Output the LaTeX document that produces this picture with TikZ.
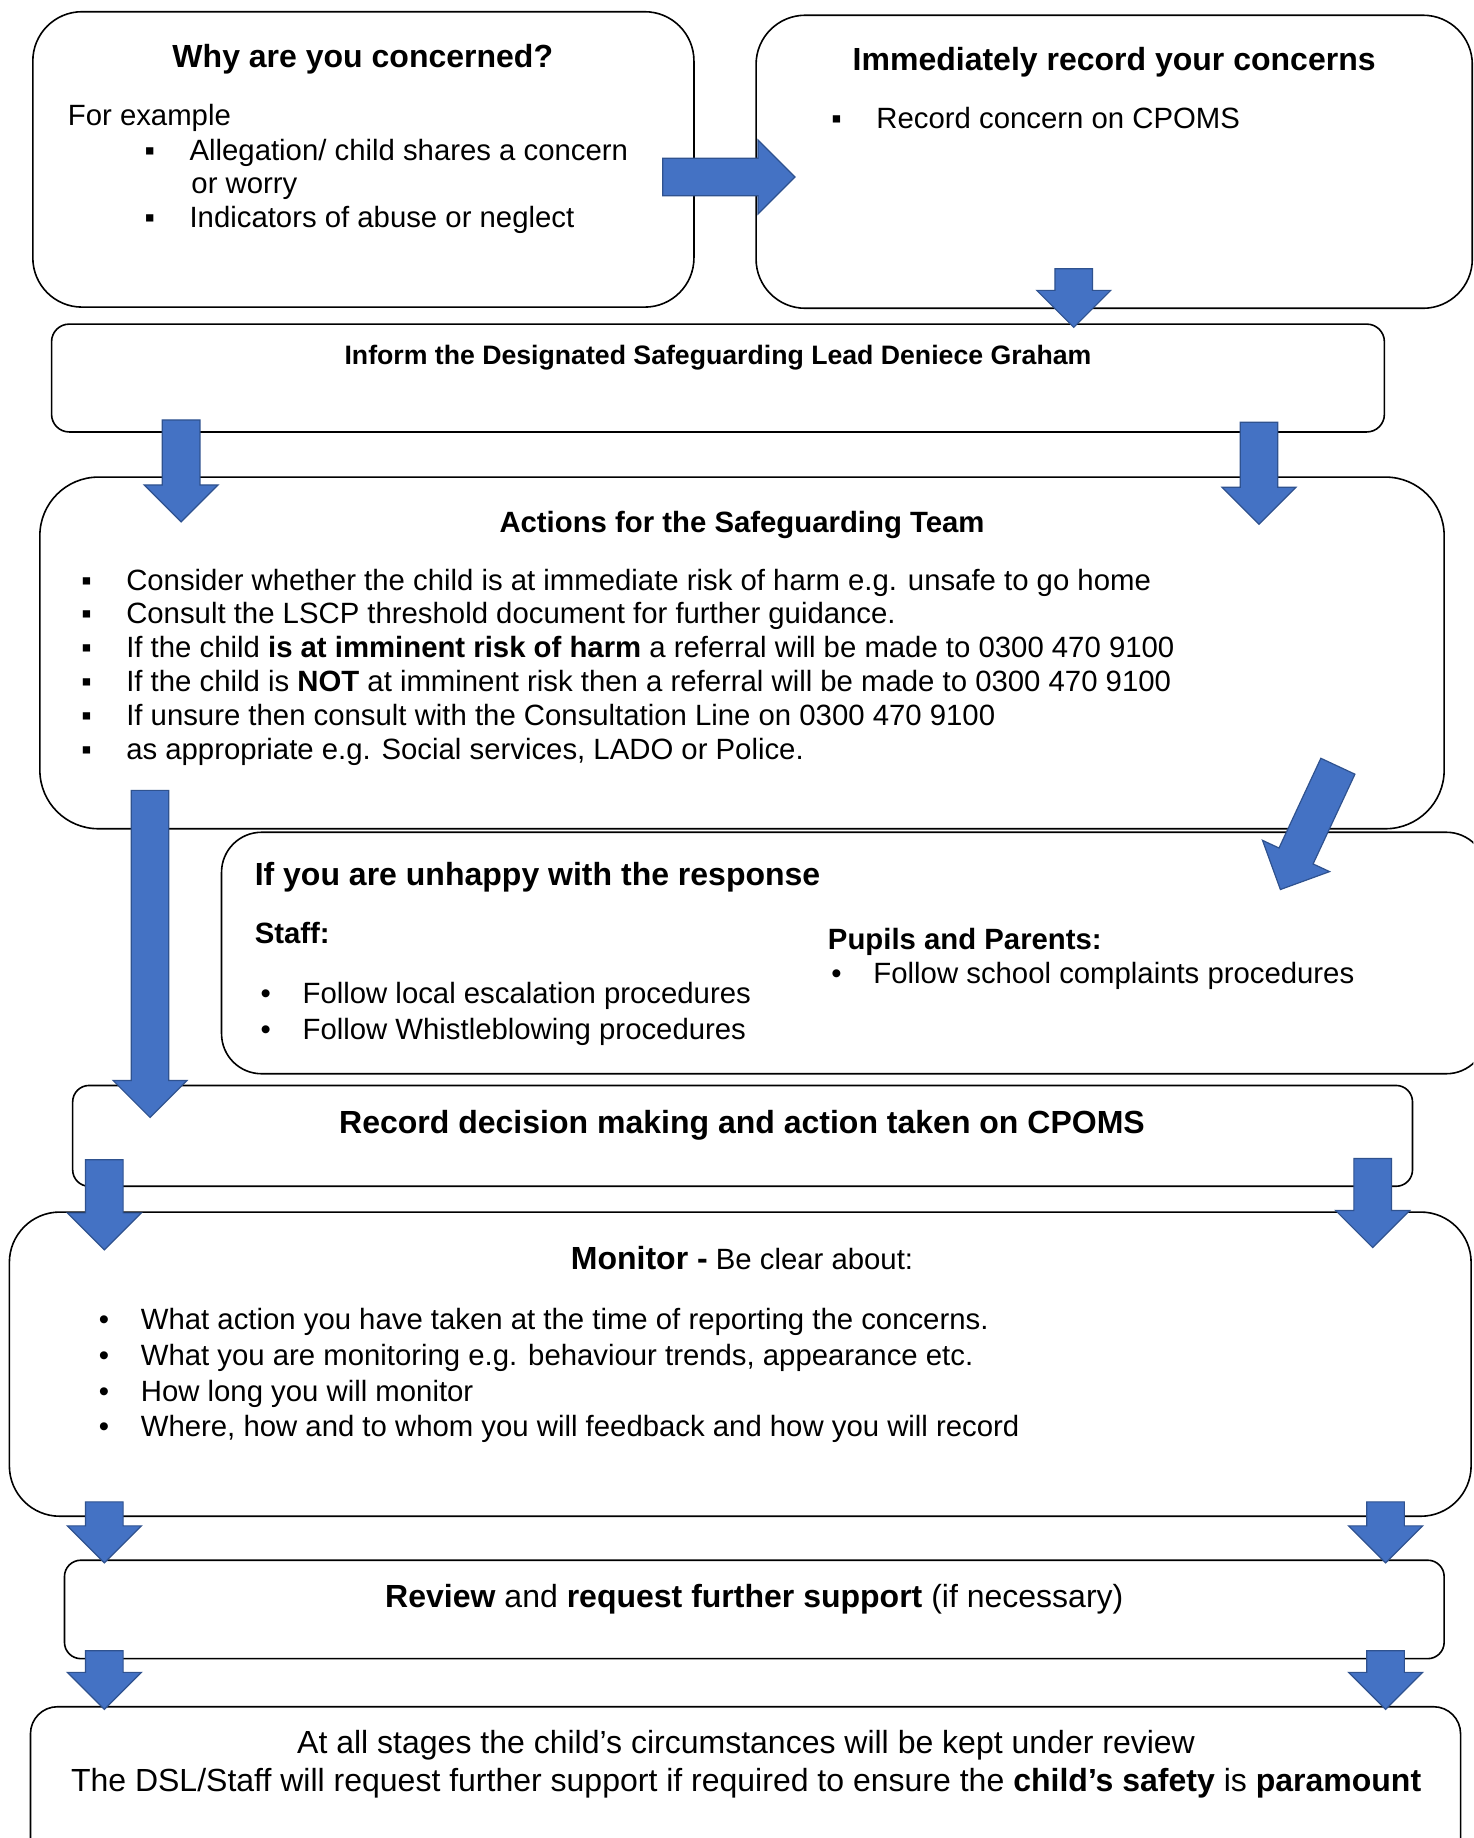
\documentclass[tikz,border=0pt]{standalone}
\usepackage{fontspec}
\setmainfont{Liberation Sans}
\usetikzlibrary{shapes.arrows,fit}

\definecolor{arrowblue}{HTML}{4472C4}
\definecolor{arrowedge}{HTML}{2F528F}

\newcommand{\sqb}{\makebox[22.5pt][l]{▪}}
\newcommand{\rdb}{\makebox[21pt][l]{•}}

\tikzset{
    box/.style={draw=black, line width=0.8pt, fill=white, inner sep=0pt},
    fatarrow/.style={single arrow, fill=arrowblue, draw=arrowedge, line width=0.6pt,
        inner xsep=0pt, inner ysep=9.1pt, single arrow head extend=9.1pt,
        single arrow tip angle=90, anchor=tip},
    body/.style={font=\fontsize{14.66}{17}\selectfont, inner sep=0pt},
    head/.style={font=\fontsize{16}{19}\selectfont\bfseries, inner sep=0pt},
}

\begin{document}
\begin{tikzpicture}[x=0.586pt, y=-0.586pt]
    \useasboundingbox (0,0) rectangle (1257,1568);
    \clip (0,0) rectangle (1257,1568);

    % boxes
    \node[box, rounded corners=24.6pt, fit={(28,10) (592,262)}] (why) {};
    \node[box, rounded corners=24.6pt, fit={(645,13) (1256,263)}] (rec) {};
    \node[box, rounded corners=8.8pt, fit={(44,276.5) (1181,368.5)}] (dsl) {};
    \node[box, rounded corners=29.3pt, fit={(34,407) (1232,707)}] (team) {};
    \node[box, rounded corners=20pt, fit={(189,710) (1268,916)}] (unhappy) {};
    \node[box, rounded corners=8.2pt, fit={(62,926) (1205,1012)}] (decide) {};
    \node[box, rounded corners=25.2pt, fit={(8,1034) (1255,1293.5)}] (monitor) {};
    \node[box, rounded corners=8.2pt, fit={(55,1331) (1232,1415)}] (review) {};
    \node[box, rounded corners=13.5pt, fit={(26,1456) (1246,1600)}] (stages) {};

    % why are you concerned
    \node[head, anchor=base] (whyT) at (309.5,58) {Why are you concerned?};
    \node[body, anchor=base west] (whyA) at (57.6,107) {For example};
    \node[body, anchor=base west] (whyB) at (123,137) {\sqb Allegation/ child shares a concern};
    \node[body, anchor=base west] (whyC) at (163,165) {or worry};
    \node[body, anchor=base west] (whyD) at (123,194) {\sqb Indicators of abuse or neglect};

    % record straight away
    \node[head, anchor=base] (recT) at (950.5,60) {Immediately record your concerns};
    \node[body, anchor=base west] (recA) at (709,110) {\sqb Record concern on CPOMS};

    % inform the DSL
    \node[inner sep=0pt, font=\fontsize{13.33}{16}\selectfont\bfseries, anchor=base] (dslT) at (612.5,311)
        {Inform the Designated Safeguarding Lead Deniece Graham};

    % safeguarding team
    \node[body, font=\fontsize{14.66}{17}\selectfont\bfseries, anchor=base] (teamT) at (633,454)
        {Actions for the Safeguarding Team};
    \node[body, anchor=base west] (teamA) at (69,503.5)
        {\sqb Consider whether the child is at immediate risk of harm e.g. unsafe to go home};
    \node[body, anchor=base west] (teamB) at (69,532.2)
        {\sqb Consult the LSCP threshold document for further guidance.};
    \node[body, anchor=base west] (teamC) at (69,560.9)
        {\sqb If the child \textbf{is at imminent risk of harm} a referral will be made to 0300 470 9100};
    \node[body, anchor=base west] (teamD) at (69,589.6)
        {\sqb If the child is \textbf{NOT} at imminent risk then a referral will be made to 0300 470 9100};
    \node[body, anchor=base west] (teamE) at (69,619)
        {\sqb If unsure then consult with the Consultation Line on 0300 470 9100};
    \node[body, anchor=base west] (teamF) at (69,648)
        {\sqb as appropriate e.g. Social services, LADO or Police.};

    % unhappy with the response
    \node[head, anchor=base west] (unT) at (217,755) {If you are unhappy with the response};
    \node[body, font=\fontsize{14.66}{17}\selectfont\bfseries, anchor=base west] (unS) at (217,805) {Staff:};
    \node[body, anchor=base west] (unA) at (222,856) {\rdb Follow local escalation procedures};
    \node[body, anchor=base west] (unB) at (222,887) {\rdb Follow Whistleblowing procedures};
    \node[body, font=\fontsize{14.66}{17}\selectfont\bfseries, anchor=base west] (unP) at (706,810) {Pupils and Parents:};
    \node[body, anchor=base west] (unC) at (709,839) {\rdb Follow school complaints procedures};

    % record decisions
    \node[head, anchor=base] (decT) at (633,967) {Record decision making and action taken on CPOMS};

    % monitor
    \node[body, anchor=base] (monT) at (633,1083)
        {{\fontsize{16}{19}\selectfont\bfseries Monitor -} Be clear about:};
    \node[body, anchor=base west] (monA) at (84,1134.5)
        {\rdb What action you have taken at the time of reporting the concerns.};
    \node[body, anchor=base west] (monB) at (84,1164.5)
        {\rdb What you are monitoring e.g. behaviour trends, appearance etc.};
    \node[body, anchor=base west] (monC) at (84,1195.5) {\rdb How long you will monitor};
    \node[body, anchor=base west] (monD) at (84,1225.5)
        {\rdb Where, how and to whom you will feedback and how you will record};

    % review
    \node[inner sep=0pt, font=\fontsize{16}{19}\selectfont, anchor=base] (revT) at (643.5,1371)
        {\textbf{Review} and \textbf{request further support} (if necessary)};

    % all stages
    \node[inner sep=0pt, font=\fontsize{16}{19}\selectfont, anchor=base] (stA) at (636.5,1496)
        {At all stages the child’s circumstances will be kept under review};
    \node[inner sep=0pt, font=\fontsize{16}{19}\selectfont, anchor=base] (stB) at (636.5,1528)
        {The DSL/Staff will request further support if required to ensure the \textbf{child’s safety} is \textbf{paramount}};

    % block arrows
    \node[fatarrow, minimum height=66.2pt] (arrA) at (679,151) {};
    \node[fatarrow, minimum height=29.3pt, rotate=-90] (arrB) at (916,280) {};
    \node[fatarrow, minimum height=51pt, rotate=-90] (arrC) at (154.5,446) {};
    \node[fatarrow, minimum height=51pt, rotate=-90] (arrD) at (1074,448) {};
    \node[fatarrow, minimum height=163.5pt, rotate=-90] (arrE) at (128,954) {};
    \node[fatarrow, minimum height=68pt, rotate=-115] (arrF) at (1092,759.5) {};
    \node[fatarrow, minimum height=45.1pt, rotate=-90] (arrG) at (89,1067) {};
    \node[fatarrow, minimum height=44.5pt, rotate=-90] (arrH) at (1171,1065) {};
    \node[fatarrow, minimum height=30.5pt, rotate=-90] (arrI) at (89,1334) {};
    \node[fatarrow, minimum height=30.5pt, rotate=-90] (arrJ) at (1182,1334) {};
    \node[fatarrow, minimum height=29.3pt, rotate=-90] (arrK) at (89,1459) {};
    \node[fatarrow, minimum height=29.3pt, rotate=-90] (arrL) at (1182,1459) {};
\end{tikzpicture}
\end{document}
